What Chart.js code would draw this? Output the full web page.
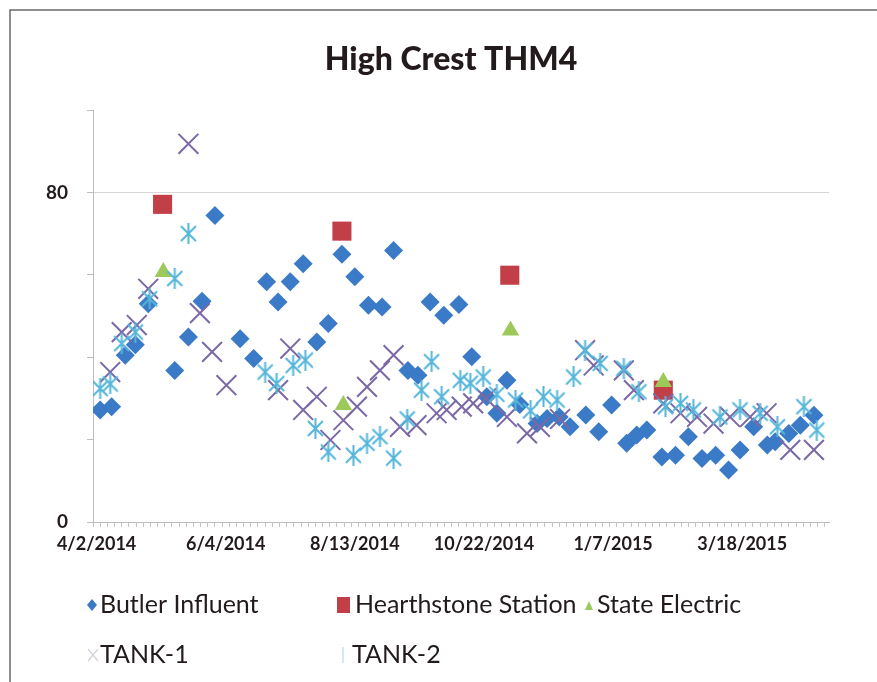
<!DOCTYPE html>
<html>
<head>
<meta charset="utf-8">
<script src="https://cdn.jsdelivr.net/npm/chart.js@4"></script>
<style>
  html, body { margin: 0; padding: 0; background: #fff; }
  #wrap { width: 877px; height: 682px; position: relative; }
</style>
</head>
<body>
<div id="wrap"><canvas id="chart" width="877" height="682"></canvas></div>
<script>
// axis labels, one every 18 sample slots
const dateLabels = ['4/2/2014', '6/4/2014', '8/13/2014', '10/22/2014', '1/7/2015', '3/18/2015']
const slotCount = 102.6

// [slot, value]
const butlerInfluent = [
  [1.0, 27.2], [2.6, 28.0], [4.5, 40.5], [5.9, 43.0], [7.7, 53.0], [11.4, 36.8], [13.3, 44.9],
  [15.2, 53.6], [17.0, 74.4], [20.5, 44.5], [22.4, 39.7], [24.2, 58.3], [25.8, 53.4], [27.5, 58.3],
  [29.3, 62.7], [31.2, 43.7], [32.8, 48.2], [34.7, 65.0], [36.5, 59.5], [38.4, 52.6], [40.3, 52.2],
  [41.9, 65.9], [43.9, 36.8], [45.3, 35.6], [47.0, 53.4], [48.9, 50.2], [51.0, 52.8], [52.8, 40.1],
  [54.9, 30.4], [56.3, 26.4], [57.7, 34.4], [59.5, 28.5], [61.9, 23.9], [63.3, 25.1], [65.0, 25.5],
  [66.5, 23.1], [68.7, 26.0], [70.5, 21.9], [72.3, 28.4], [74.4, 19.1], [75.8, 21.1], [77.2, 22.3],
  [79.3, 15.8], [81.2, 16.2], [83.0, 20.7], [84.9, 15.4], [86.8, 16.2], [88.6, 12.6], [90.2, 17.5],
  [92.1, 23.1], [94.0, 18.7], [95.1, 19.5], [97.0, 21.5], [98.6, 23.5], [100.5, 25.9]
]
const hearthstoneStation = [[9.7, 77.1], [34.7, 70.6], [58.1, 59.9], [79.5, 32.0]]
const stateElectric = [[9.8, 60.7], [34.9, 28.4], [58.2, 46.5], [79.5, 34.0]]
const tank1 = [
  [2.4, 36.4], [4.0, 46.1], [6.1, 47.8], [7.7, 56.6], [13.3, 91.8], [14.9, 50.7], [16.6, 41.3],
  [18.6, 33.2], [25.8, 32.0], [27.5, 42.1], [29.3, 27.2], [31.2, 30.4], [33.1, 19.9], [34.9, 24.7],
  [36.8, 28.0], [38.2, 32.8], [40.0, 36.8], [41.9, 40.5], [42.8, 23.1], [45.1, 23.5], [47.9, 26.4],
  [49.3, 27.2], [51.4, 28.0], [53.0, 28.8], [54.8, 30.0], [57.7, 25.5], [60.5, 21.5], [62.3, 23.1],
  [65.1, 25.0], [68.6, 41.7], [69.8, 38.0], [74.0, 36.8], [75.4, 32.0], [79.5, 28.8], [81.9, 26.4],
  [84.2, 25.5], [86.5, 23.9], [88.8, 25.5], [91.6, 25.5], [93.9, 26.4], [97.2, 17.5], [100.5, 17.5]
]
const tank2 = [
  [1.0, 32.4], [2.4, 33.5], [4.0, 43.3], [5.9, 46.1], [7.9, 54.2], [11.4, 59.1], [13.3, 70.0],
  [24.0, 36.4], [25.6, 33.6], [27.9, 38.0], [29.6, 39.3], [31.0, 22.7], [32.8, 17.0], [36.3, 16.2],
  [38.2, 19.1], [40.0, 20.7], [41.9, 15.5], [43.8, 25.0], [45.8, 32.0], [47.2, 38.9], [48.6, 30.4],
  [51.2, 34.4], [52.6, 33.7], [54.4, 35.2], [56.3, 31.0], [58.9, 29.6], [61.0, 27.0], [62.8, 30.4],
  [64.7, 29.6], [67.0, 35.2], [68.6, 41.7], [70.7, 38.5], [74.0, 37.3], [76.1, 31.6], [79.8, 28.0],
  [81.9, 28.8], [83.7, 27.2], [87.4, 25.5], [90.2, 27.2], [93.0, 26.4], [95.4, 23.1], [99.1, 28.0],
  [100.9, 22.3]
]

const colors = {
  butler: '#3b7ac6',
  hearth: '#c23f48',
  state: '#9cc95a',
  tank1: '#7b68a6',
  tank2: '#55b6da'
}
const textColor = '#231a1c'
const fontFamily = 'Lato, "Open Sans", sans-serif'

const toPoints = (pairs) => pairs.map(p => ({ x: p[0], y: p[1] }))

// excel style asterisk: an X with a vertical stroke
const makeAsterisk = (color, size) => {
  const c = document.createElement('canvas')
  c.width = size
  c.height = size
  const g = c.getContext('2d')
  const m = 2
  g.strokeStyle = color
  g.lineWidth = 2
  g.beginPath()
  g.moveTo(m + 1, m + 1); g.lineTo(size - m - 1, size - m - 1)
  g.moveTo(size - m - 1, m + 1); g.lineTo(m + 1, size - m - 1)
  g.moveTo(size / 2, 0); g.lineTo(size / 2, size)
  g.stroke()
  return c
}
const asterisk = makeAsterisk(colors.tank2, 21)

const frameAndLegend = {
  id: 'frameAndLegend',
  beforeDraw(chart) {
    const ctx = chart.ctx
    ctx.save()
    ctx.fillStyle = '#fff'
    ctx.fillRect(0, 0, chart.width, chart.height)
    ctx.strokeStyle = '#6a6a6a'
    ctx.lineWidth = 1.5
    ctx.beginPath()
    ctx.moveTo(10, 700)
    ctx.lineTo(10, 10)
    ctx.lineTo(900, 10)
    ctx.stroke()
    ctx.restore()
  },
  afterDraw(chart) {
    const ctx = chart.ctx
    ctx.save()
    // title
    ctx.fillStyle = textColor
    ctx.font = '900 32px ' + fontFamily
    ctx.textAlign = 'center'
    ctx.textBaseline = 'middle'
    ctx.fillText('High Crest THM4', 451, 60)

    // legend
    ctx.font = '25px ' + fontFamily
    ctx.textAlign = 'left'
    const items = [
      { label: 'Butler Influent', mx: 92, tx: 100, y: 605, kind: 'diamond' },
      { label: 'Hearthstone Station', mx: 343, tx: 355, y: 605, kind: 'square' },
      { label: 'State Electric', mx: 589, tx: 597, y: 605, kind: 'triangle' },
      { label: 'TANK-1', mx: 93, tx: 100, y: 655, kind: 'x' },
      { label: 'TANK-2', mx: 343, tx: 352, y: 655, kind: 'bar' }
    ]
    for (const it of items) {
      ctx.beginPath()
      if (it.kind == 'diamond') {
        ctx.fillStyle = colors.butler
        ctx.moveTo(it.mx, it.y - 6); ctx.lineTo(it.mx + 5, it.y); ctx.lineTo(it.mx, it.y + 6); ctx.lineTo(it.mx - 5, it.y)
        ctx.closePath(); ctx.fill()
      } else if (it.kind == 'square') {
        ctx.fillStyle = colors.hearth
        ctx.fillRect(it.mx - 6, it.y - 8, 13, 16)
      } else if (it.kind == 'triangle') {
        ctx.fillStyle = colors.state
        ctx.moveTo(it.mx, it.y - 4); ctx.lineTo(it.mx + 4, it.y + 5); ctx.lineTo(it.mx - 4, it.y + 5)
        ctx.closePath(); ctx.fill()
      } else if (it.kind == 'x') {
        ctx.strokeStyle = '#d4d0dc'
        ctx.lineWidth = 1.2
        ctx.moveTo(it.mx - 5, it.y - 6); ctx.lineTo(it.mx + 5, it.y + 6)
        ctx.moveTo(it.mx + 5, it.y - 6); ctx.lineTo(it.mx - 5, it.y + 6)
        ctx.stroke()
      } else {
        ctx.strokeStyle = '#c6e3ee'
        ctx.lineWidth = 1.5
        ctx.moveTo(it.mx, it.y - 8); ctx.lineTo(it.mx, it.y + 8)
        ctx.stroke()
      }
      ctx.fillStyle = textColor
      ctx.textBaseline = 'middle'
      ctx.fillText(it.label, it.tx, it.y)
    }
    ctx.restore()
  }
}

const ctx = document.getElementById('chart')
const chart = new Chart(ctx, {
  type: 'scatter',
  data: {
    datasets: [
      {
        label: 'Butler Influent',
        data: toPoints(butlerInfluent),
        pointStyle: 'rectRot',
        pointRadius: 9.5,
        backgroundColor: colors.butler,
        borderColor: colors.butler,
        borderWidth: 0,
        order: 5
      },
      {
        label: 'Hearthstone Station',
        data: toPoints(hearthstoneStation),
        pointStyle: 'rect',
        pointRadius: 13.5,
        backgroundColor: colors.hearth,
        borderColor: colors.hearth,
        borderWidth: 0,
        order: 4
      },
      {
        label: 'State Electric',
        data: toPoints(stateElectric),
        pointStyle: 'triangle',
        pointRadius: 10,
        backgroundColor: colors.state,
        borderColor: colors.state,
        borderWidth: 0,
        order: 3
      },
      {
        label: 'TANK-1',
        data: toPoints(tank1),
        pointStyle: 'crossRot',
        pointRadius: 14,
        backgroundColor: colors.tank1,
        borderColor: colors.tank1,
        borderWidth: 2,
        order: 2
      },
      {
        label: 'TANK-2',
        data: toPoints(tank2),
        pointStyle: asterisk,
        pointRadius: 10,
        backgroundColor: colors.tank2,
        borderColor: colors.tank2,
        order: 1
      }
    ]
  },
  options: {
    responsive: false,
    animation: false,
    layout: {
      autoPadding: false,
      padding: { left: 0, top: 110, right: 48, bottom: 120 }
    },
    plugins: {
      legend: { display: false },
      title: { display: false },
      tooltip: { enabled: false }
    },
    scales: {
      x: {
        type: 'linear',
        min: 0,
        max: slotCount,
        afterBuildTicks: (scale) => {
          const ticks = []
          for (let i = 0; i <= Math.floor(slotCount); i++) ticks.push({ value: i })
          scale.ticks = ticks
        },
        afterFit: (scale) => { scale.height = 40 },
        grid: {
          drawOnChartArea: false,
          tickLength: 5,
          tickColor: '#c4c4c4'
        },
        border: { color: '#bdbdbd', width: 1 },
        ticks: {
          autoSkip: false,
          maxRotation: 0,
          labelOffset: 3.6,
          padding: 6,
          color: textColor,
          font: { family: fontFamily, size: 18, weight: 'bold' },
          callback: (value) => (value % 18 === 0 ? dateLabels[value / 18] || '' : '')
        }
      },
      y: {
        min: 0,
        max: 100,
        afterFit: (scale) => { scale.width = 93 },
        grid: {
          color: (c) => (c.tick && c.tick.value === 80 ? '#d6d6d6' : 'rgba(0,0,0,0)'),
          tickColor: '#bdbdbd',
          tickLength: 6
        },
        border: { color: '#bdbdbd', width: 1 },
        ticks: {
          stepSize: 20,
          padding: 19,
          color: textColor,
          font: { family: fontFamily, size: 19, weight: 'bold' },
          callback: (value) => (value === 0 || value === 80 ? String(value) : '')
        }
      }
    }
  },
  plugins: [frameAndLegend]
})
</script>
</body>
</html>
